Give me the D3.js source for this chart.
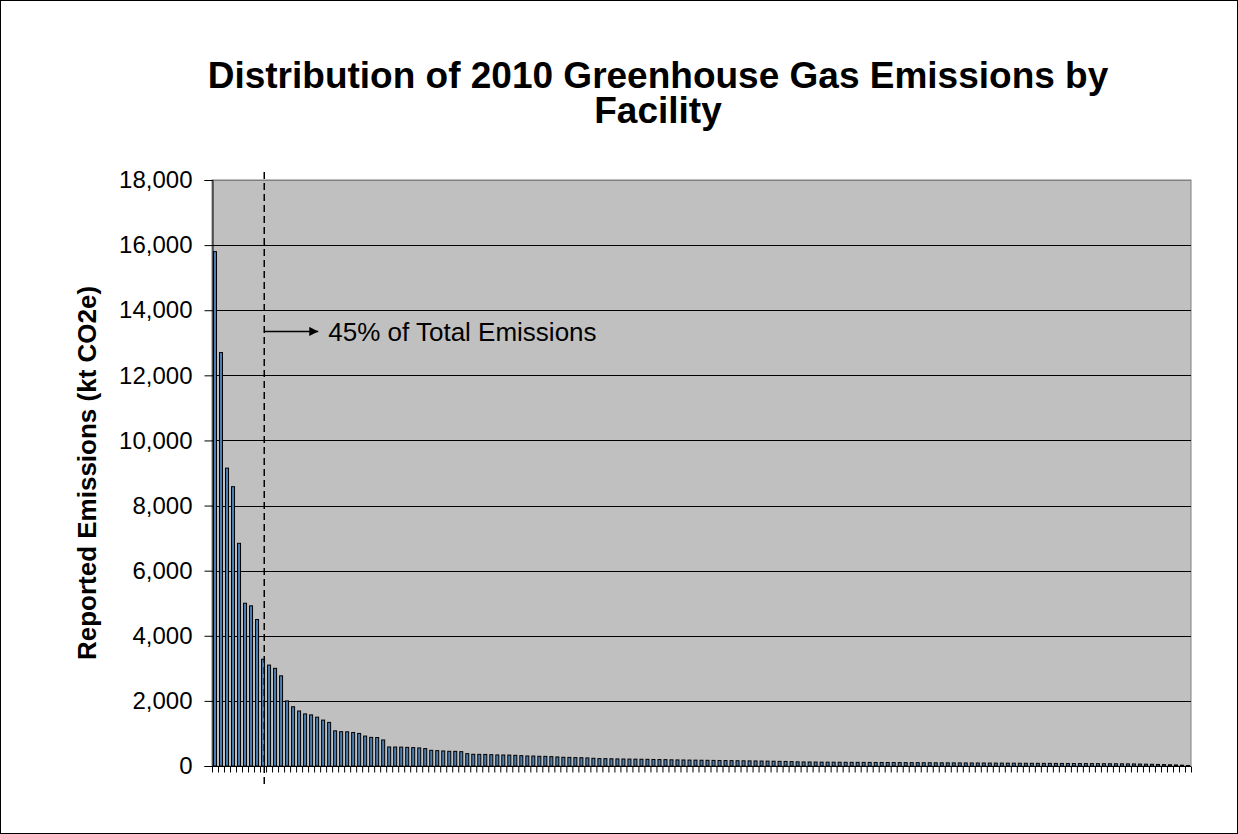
<!DOCTYPE html>
<html>
<head>
<meta charset="utf-8">
<script src="https://cdn.jsdelivr.net/npm/d3@7"></script>
<style>
  html, body { margin: 0; padding: 0; background: #ffffff; }
  svg { display: block; font-family: "Liberation Sans", Arial, sans-serif; }
</style>
</head>
<body>
<svg id="chart" width="1238" height="834"></svg>
<script>
// ---- data ----
const titleLines = ["Distribution of 2010 Greenhouse Gas Emissions by", "Facility"];
const yAxisTitle = "Reported Emissions (kt CO2e)";
const annotationText = "45% of Total Emissions";
const yTickValues = [0, 2000, 4000, 6000, 8000, 10000, 12000, 14000, 16000, 18000];
const emissions = [
  15800, 12700, 9150, 8580, 6840, 5000, 4920, 4500, 3280, 3100,
  3000, 2770, 2000, 1820, 1690, 1600, 1570, 1500, 1410, 1340,
  1080, 1055, 1050, 1030, 1000, 920, 880, 875, 800, 585,
  583, 580, 573, 565, 555, 535, 482, 472, 462, 452,
  450, 440, 380, 360, 358, 356, 348, 340, 338, 336,
  328, 318, 308, 306, 298, 296, 288, 278, 268, 265,
  258, 255, 248, 237, 227, 225, 222, 218, 215, 212,
  210, 207, 205, 200, 198, 195, 190, 187, 185, 182,
  180, 177, 175, 172, 170, 167, 165, 162, 160, 158,
  155, 152, 150, 147, 143, 140, 135, 128, 125, 123,
  121, 119, 118, 117, 115, 114, 113, 112, 111, 110,
  109, 108, 107, 106, 105, 104, 103, 102, 101, 100,
  99, 98, 97, 96, 95, 94, 93, 92, 91, 90,
  89, 88, 87, 86, 85, 84, 83, 82, 81, 80,
  79, 78, 77, 76, 75, 74, 73, 72, 71, 70,
  69, 68, 66, 64, 60, 56, 52, 48, 43, 38,
  32, 25, 15
];
const facilities = emissions.map((d, i) => "F" + (i + 1));
const splitPosition = 8.7;     // dashed divider, in category units from the left
const annotationLevel = 13350; // y value of the annotation arrow

// ---- layout ----
const svg = d3.select("#chart");
const W = 1238, H = 834;
const plot = { left: 212, right: 1191, top: 180, bottom: 766 };

svg.append("rect").attr("x", 0.5).attr("y", 0.5).attr("width", W - 1).attr("height", H - 1)
  .attr("fill", "#ffffff").attr("stroke", "#000000").attr("stroke-width", 1);

const y = d3.scaleLinear().domain([0, 18000]).range([plot.bottom, plot.top]);
const x = d3.scaleBand().domain(facilities).range([plot.left, plot.right])
  .paddingInner(1 / 3).paddingOuter(1 / 6);
const xEdge = d3.scaleLinear().domain([0, facilities.length]).range([plot.left, plot.right]);

// plot background
svg.append("rect").attr("x", plot.left).attr("y", plot.top)
  .attr("width", plot.right - plot.left).attr("height", plot.bottom - plot.top)
  .attr("fill", "#c0c0c0").attr("stroke", "#808080").attr("stroke-width", 1);

// gridlines
svg.append("g").selectAll("line").data(yTickValues.filter(v => v > 0)).join("line")
  .attr("x1", plot.left).attr("x2", plot.right)
  .attr("y1", d => Math.round(y(d)) + 0.5).attr("y2", d => Math.round(y(d)) + 0.5)
  .attr("stroke", d => d === 18000 ? "#808080" : "#000000").attr("stroke-width", 1);

// bars
svg.append("g").selectAll("rect").data(emissions).join("rect")
  .attr("x", (d, i) => x(facilities[i]) + 0.5)
  .attr("y", d => y(d))
  .attr("width", x.bandwidth() - 1)
  .attr("height", d => y(0) - y(d))
  .attr("fill", "#4a7fb5").attr("stroke", "#000000").attr("stroke-width", 1);

// y axis
const yAxis = d3.axisLeft(y).tickValues(yTickValues).tickSize(8).tickPadding(12)
  .tickFormat(d3.format(","));
const gy = svg.append("g").attr("transform", `translate(${plot.left + 0.5},0)`).call(yAxis);
gy.select(".domain").attr("stroke", "#000");
gy.selectAll(".tick line").attr("stroke", "#000");
gy.selectAll(".tick text").attr("font-size", 24).attr("fill", "#000")
  .attr("font-family", "Liberation Sans, Arial, sans-serif");

// x axis (ticks at category boundaries)
const xAxis = d3.axisBottom(xEdge).tickValues(d3.range(0, facilities.length + 1))
  .tickSize(6).tickFormat("");
const gx = svg.append("g").attr("transform", `translate(0,${plot.bottom + 0.5})`).call(xAxis);
gx.select(".domain").attr("stroke", "#000").attr("d", `M${plot.left},0H${plot.right}`);
gx.selectAll(".tick line").attr("stroke", "#000");

// dashed divider
const xs = xEdge(splitPosition);
svg.append("line").attr("x1", xs).attr("x2", xs)
  .attr("y1", plot.top - 8).attr("y2", plot.bottom + 21)
  .attr("stroke", "#000").attr("stroke-width", 1.5).attr("stroke-dasharray", "7,4");

// arrow + annotation
const defs = svg.append("defs");
defs.append("marker").attr("id", "arrow").attr("viewBox", "0 0 10 10")
  .attr("refX", 10).attr("refY", 5).attr("markerWidth", 10).attr("markerHeight", 9)
  .attr("markerUnits", "userSpaceOnUse").attr("orient", "auto")
  .append("path").attr("d", "M0,0L10,5L0,10Z").attr("fill", "#000");
const ya = y(annotationLevel);
svg.append("line").attr("x1", xs).attr("x2", xs + 54).attr("y1", ya).attr("y2", ya)
  .attr("stroke", "#000").attr("stroke-width", 1.5).attr("marker-end", "url(#arrow)");
svg.append("text").attr("x", xs + 64).attr("y", ya + 10)
  .attr("font-size", 26).attr("fill", "#000").text(annotationText);

// title
svg.append("g").selectAll("text").data(titleLines).join("text")
  .attr("x", 658).attr("y", (d, i) => 88 + i * 35)
  .attr("text-anchor", "middle").attr("font-size", 37).attr("font-weight", "bold")
  .attr("fill", "#000").text(d => d);

// y axis title
svg.append("text").attr("transform", `translate(96,${(plot.top + plot.bottom) / 2}) rotate(-90)`)
  .attr("text-anchor", "middle").attr("font-size", 26).attr("font-weight", "bold")
  .attr("fill", "#000").text(yAxisTitle);
</script>
</body>
</html>
